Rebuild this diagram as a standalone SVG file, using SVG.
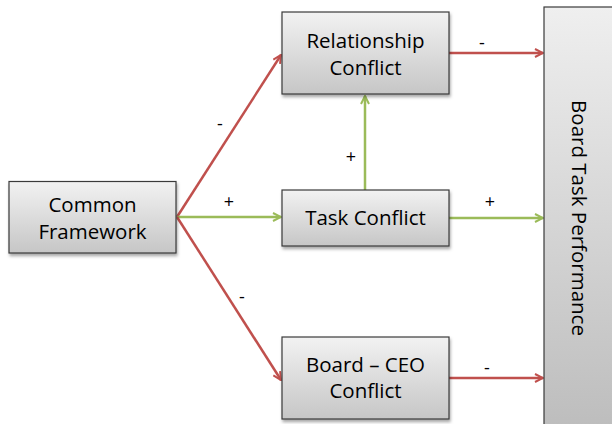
<svg xmlns="http://www.w3.org/2000/svg" width="612" height="424" viewBox="0 0 612 424">
<defs>
<linearGradient id="g" x1="0" y1="0" x2="0" y2="1">
<stop offset="0" stop-color="#f2f2f2"/>
<stop offset="1" stop-color="#c6c6c6"/>
</linearGradient>
<linearGradient id="g2" x1="0" y1="0" x2="0" y2="1">
<stop offset="0" stop-color="#efefef"/>
<stop offset="1" stop-color="#bcbcbc"/>
</linearGradient>
<filter id="sh" x="-10%" y="-10%" width="130%" height="140%">
<feDropShadow dx="1" dy="2.5" stdDeviation="1.5" flood-color="#000" flood-opacity="0.35"/>
</filter>
<marker id="ar" viewBox="0 0 10 10" refX="9" refY="5" markerWidth="4" markerHeight="4" orient="auto" markerUnits="strokeWidth">
<path d="M1,1 L9,5 L1,9" fill="none" stroke="#c0504d" stroke-width="2"/>
</marker>
<marker id="ag" viewBox="0 0 10 10" refX="9" refY="5" markerWidth="4" markerHeight="4" orient="auto" markerUnits="strokeWidth">
<path d="M1,1 L9,5 L1,9" fill="none" stroke="#9bbb59" stroke-width="2"/>
</marker>
</defs>
<style>
.box{fill:url(#g);stroke:#3a3a3a;stroke-width:1.2;filter:url(#sh)}
.t{font-family:"Open Sans","Liberation Sans",sans-serif;font-size:20.5px;fill:#000;text-anchor:middle}
.l{font-family:"Open Sans","Liberation Sans",sans-serif;font-size:18px;fill:#000;text-anchor:middle}
.r{fill:none;stroke:#c0504d;stroke-width:2.5;marker-end:url(#ar)}
.gr{fill:none;stroke:#9bbb59;stroke-width:2.5;marker-end:url(#ag)}
</style>
<g id="connectors">
<line class="r" x1="177" y1="217" x2="281" y2="55"/>
<line class="gr" x1="177" y1="217" x2="281" y2="217"/>
<line class="r" x1="177" y1="217" x2="281" y2="380"/>
<line class="gr" x1="365" y1="190" x2="365" y2="96"/>
<line class="r" x1="449" y1="53" x2="543" y2="53"/>
<line class="gr" x1="449" y1="218" x2="543" y2="218"/>
<line class="r" x1="449" y1="378" x2="543" y2="378"/>
<text class="l" x="220" y="130">-</text>
<text class="l" x="229" y="208">+</text>
<text class="l" x="242" y="303">-</text>
<text class="l" x="351" y="163">+</text>
<text class="l" x="482" y="49">-</text>
<text class="l" x="490" y="208">+</text>
<text class="l" x="487" y="374">-</text>
</g>
<g id="common-framework">
<rect class="box" x="9" y="181.5" width="167" height="71.5"/>
<text class="t" x="92.5" y="211.5">Common</text>
<text class="t" x="92.5" y="238.5">Framework</text>
</g>
<g id="relationship-conflict">
<rect class="box" x="282" y="12" width="167" height="82"/>
<text class="t" x="365.5" y="48">Relationship</text>
<text class="t" x="365.5" y="75">Conflict</text>
</g>
<g id="task-conflict">
<rect class="box" x="282" y="190" width="167" height="56"/>
<text class="t" x="365.5" y="225">Task Conflict</text>
</g>
<g id="board-ceo-conflict">
<rect class="box" x="282" y="337" width="167" height="82"/>
<text class="t" x="365.5" y="372">Board – CEO</text>
<text class="t" x="365.5" y="398">Conflict</text>
</g>
<g id="board-task-performance">
<rect x="544" y="7" width="80" height="430" fill="url(#g2)" stroke="#3a3a3a" stroke-width="1.2"/>
<text class="t" transform="translate(571.5,218) rotate(90)" x="0" y="0">Board Task Performance</text>
</g>
</svg>
